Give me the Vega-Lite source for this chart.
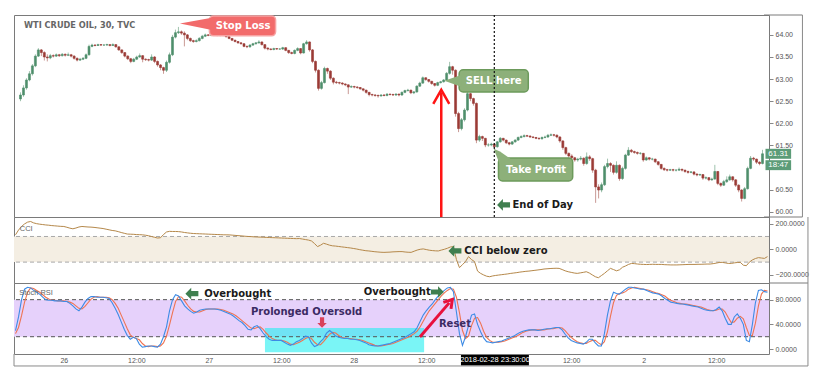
{
"$schema":"https://vega.github.io/schema/vega-lite/v6.json",
"background":"white",
"padding":{"left":12,"top":13,"right":4,"bottom":4},
"spacing":0,
"bounds":"flush",
"config":{
 "view":{"stroke":"#7a7a7a","strokeWidth":1},
 "axis":{"labelFont":"Liberation Sans","labelFontSize":7,"labelColor":"#555","tickColor":"#888","domain":false,"grid":false,"labelOverlap":false},
 "text":{"font":"DejaVu Sans"}
},
"datasets":{"one":[{}],"bars":[
{"i":0,"o":62.55,"h":62.7,"l":62.5,"c":62.64,"cci":113,"k":30,"d":25},
{"i":1,"o":62.64,"h":62.86,"l":62.6,"c":62.8,"cci":150,"k":52,"d":35},
{"i":2,"o":62.8,"h":63.02,"l":62.76,"c":62.98,"cci":178,"k":80,"d":54},
{"i":3,"o":62.98,"h":63.18,"l":62.95,"c":63.12,"cci":198,"k":97,"d":76},
{"i":4,"o":63.12,"h":63.34,"l":63.08,"c":63.3,"cci":212,"k":100,"d":92},
{"i":5,"o":63.3,"h":63.56,"l":63.27,"c":63.52,"cci":217,"k":99,"d":99},
{"i":6,"o":63.52,"h":63.7,"l":63.5,"c":63.66,"cci":206,"k":95,"d":98},
{"i":7,"o":63.66,"h":63.68,"l":63.52,"c":63.6,"cci":200,"k":92,"d":95},
{"i":8,"o":63.6,"h":63.63,"l":63.42,"c":63.5,"cci":196,"k":89,"d":92},
{"i":9,"o":63.5,"h":63.56,"l":63.4,"c":63.48,"cci":193,"k":84,"d":88},
{"i":10,"o":63.48,"h":63.57,"l":63.45,"c":63.53,"cci":190,"k":80,"d":84},
{"i":11,"o":63.53,"h":63.56,"l":63.49,"c":63.52,"cci":188,"k":79,"d":81},
{"i":12,"o":63.52,"h":63.58,"l":63.5,"c":63.55,"cci":185,"k":79,"d":79},
{"i":13,"o":63.55,"h":63.57,"l":63.5,"c":63.53,"cci":183,"k":78,"d":79},
{"i":14,"o":63.53,"h":63.59,"l":63.51,"c":63.56,"cci":181,"k":78,"d":78},
{"i":15,"o":63.56,"h":63.58,"l":63.51,"c":63.54,"cci":179,"k":78,"d":78},
{"i":16,"o":63.54,"h":63.6,"l":63.52,"c":63.55,"cci":178,"k":77,"d":78},
{"i":17,"o":63.55,"h":63.57,"l":63.49,"c":63.52,"cci":172,"k":77,"d":77},
{"i":18,"o":63.52,"h":63.54,"l":63.44,"c":63.47,"cci":165,"k":74,"d":76},
{"i":19,"o":63.47,"h":63.49,"l":63.4,"c":63.43,"cci":160,"k":70,"d":74},
{"i":20,"o":63.43,"h":63.48,"l":63.41,"c":63.45,"cci":166,"k":65,"d":70},
{"i":21,"o":63.45,"h":63.5,"l":63.43,"c":63.47,"cci":174,"k":62,"d":66},
{"i":22,"o":63.47,"h":63.58,"l":63.45,"c":63.55,"cci":178,"k":68,"d":65},
{"i":23,"o":63.55,"h":63.78,"l":63.53,"c":63.74,"cci":176,"k":76,"d":69},
{"i":24,"o":63.74,"h":63.8,"l":63.72,"c":63.77,"cci":174,"k":82,"d":75},
{"i":25,"o":63.77,"h":63.79,"l":63.74,"c":63.76,"cci":173,"k":85,"d":81},
{"i":26,"o":63.76,"h":63.8,"l":63.75,"c":63.78,"cci":171,"k":85,"d":84},
{"i":27,"o":63.78,"h":63.79,"l":63.75,"c":63.77,"cci":168,"k":84,"d":85},
{"i":28,"o":63.77,"h":63.79,"l":63.75,"c":63.77,"cci":165,"k":84,"d":84},
{"i":29,"o":63.77,"h":63.8,"l":63.76,"c":63.78,"cci":162,"k":84,"d":84},
{"i":30,"o":63.78,"h":63.79,"l":63.74,"c":63.76,"cci":157,"k":83,"d":84},
{"i":31,"o":63.76,"h":63.81,"l":63.75,"c":63.78,"cci":152,"k":82,"d":83},
{"i":32,"o":63.78,"h":63.79,"l":63.71,"c":63.73,"cci":147,"k":75,"d":80},
{"i":33,"o":63.73,"h":63.74,"l":63.64,"c":63.66,"cci":144,"k":66,"d":74},
{"i":34,"o":63.66,"h":63.67,"l":63.57,"c":63.6,"cci":138,"k":56,"d":66},
{"i":35,"o":63.6,"h":63.61,"l":63.49,"c":63.52,"cci":131,"k":44,"d":55},
{"i":36,"o":63.52,"h":63.54,"l":63.43,"c":63.46,"cci":125,"k":32,"d":44},
{"i":37,"o":63.46,"h":63.48,"l":63.36,"c":63.4,"cci":119,"k":22,"d":33},
{"i":38,"o":63.4,"h":63.48,"l":63.38,"c":63.45,"cci":118,"k":16,"d":23},
{"i":39,"o":63.45,"h":63.53,"l":63.43,"c":63.5,"cci":117,"k":19,"d":19},
{"i":40,"o":63.5,"h":63.58,"l":63.48,"c":63.53,"cci":115,"k":17,"d":17},
{"i":41,"o":63.53,"h":63.54,"l":63.38,"c":63.45,"cci":114,"k":8,"d":15},
{"i":42,"o":63.45,"h":63.47,"l":63.41,"c":63.44,"cci":113,"k":3,"d":9},
{"i":43,"o":63.44,"h":63.46,"l":63.4,"c":63.43,"cci":110,"k":4,"d":5},
{"i":44,"o":63.43,"h":63.56,"l":63.41,"c":63.5,"cci":106,"k":5,"d":4},
{"i":45,"o":63.5,"h":63.52,"l":63.36,"c":63.4,"cci":100,"k":5,"d":5},
{"i":46,"o":63.4,"h":63.42,"l":63.28,"c":63.32,"cci":94,"k":4,"d":5},
{"i":47,"o":63.32,"h":63.34,"l":63.2,"c":63.26,"cci":88,"k":3,"d":4},
{"i":48,"o":63.26,"h":63.28,"l":63.12,"c":63.2,"cci":90,"k":8,"d":5},
{"i":49,"o":63.2,"h":63.42,"l":63.16,"c":63.38,"cci":115,"k":20,"d":10},
{"i":50,"o":63.38,"h":63.6,"l":63.35,"c":63.55,"cci":135,"k":36,"d":21},
{"i":51,"o":63.55,"h":64.0,"l":63.52,"c":63.95,"cci":140,"k":62,"d":39},
{"i":52,"o":63.95,"h":64.12,"l":63.92,"c":64.05,"cci":139,"k":80,"d":59},
{"i":53,"o":64.05,"h":64.18,"l":64.02,"c":64.07,"cci":139,"k":88,"d":77},
{"i":54,"o":64.07,"h":64.1,"l":64.0,"c":64.04,"cci":138,"k":86,"d":85},
{"i":55,"o":64.04,"h":64.08,"l":63.74,"c":64.0,"cci":135,"k":78,"d":84},
{"i":56,"o":64.0,"h":64.02,"l":63.88,"c":63.92,"cci":131,"k":70,"d":78},
{"i":57,"o":63.92,"h":63.94,"l":63.84,"c":63.87,"cci":128,"k":65,"d":71},
{"i":58,"o":63.87,"h":63.89,"l":63.82,"c":63.85,"cci":125,"k":61,"d":65},
{"i":59,"o":63.85,"h":63.9,"l":63.83,"c":63.87,"cci":123,"k":58,"d":61},
{"i":60,"o":63.87,"h":63.95,"l":63.85,"c":63.92,"cci":122,"k":60,"d":60},
{"i":61,"o":63.92,"h":64.0,"l":63.9,"c":63.97,"cci":121,"k":63,"d":60},
{"i":62,"o":63.97,"h":64.03,"l":63.95,"c":64.0,"cci":120,"k":64,"d":62},
{"i":63,"o":64.0,"h":64.02,"l":63.97,"c":63.99,"cci":119,"k":65,"d":64},
{"i":64,"o":63.99,"h":64.03,"l":63.97,"c":64.01,"cci":118,"k":65,"d":65},
{"i":65,"o":64.01,"h":64.02,"l":63.98,"c":64.0,"cci":117,"k":65,"d":65},
{"i":66,"o":64.0,"h":64.02,"l":63.97,"c":63.99,"cci":116,"k":65,"d":65},
{"i":67,"o":63.99,"h":64.03,"l":63.97,"c":64.01,"cci":115,"k":64,"d":65},
{"i":68,"o":64.01,"h":64.02,"l":63.97,"c":64.0,"cci":114,"k":63,"d":64},
{"i":69,"o":64.0,"h":64.01,"l":63.94,"c":63.96,"cci":113,"k":61,"d":63},
{"i":70,"o":63.96,"h":63.97,"l":63.9,"c":63.92,"cci":113,"k":59,"d":61},
{"i":71,"o":63.92,"h":63.93,"l":63.86,"c":63.88,"cci":112,"k":57,"d":59},
{"i":72,"o":63.88,"h":63.89,"l":63.83,"c":63.85,"cci":110,"k":54,"d":57},
{"i":73,"o":63.85,"h":63.86,"l":63.8,"c":63.82,"cci":108,"k":50,"d":54},
{"i":74,"o":63.82,"h":63.84,"l":63.78,"c":63.8,"cci":106,"k":46,"d":50},
{"i":75,"o":63.8,"h":63.81,"l":63.72,"c":63.74,"cci":104,"k":43,"d":46},
{"i":76,"o":63.74,"h":63.76,"l":63.7,"c":63.73,"cci":102,"k":38,"d":42},
{"i":77,"o":63.73,"h":63.79,"l":63.71,"c":63.77,"cci":100,"k":32,"d":38},
{"i":78,"o":63.77,"h":63.82,"l":63.75,"c":63.8,"cci":99,"k":31,"d":34},
{"i":79,"o":63.8,"h":63.84,"l":63.78,"c":63.82,"cci":97,"k":36,"d":33},
{"i":80,"o":63.82,"h":63.88,"l":63.8,"c":63.84,"cci":96,"k":38,"d":35},
{"i":81,"o":63.84,"h":63.85,"l":63.76,"c":63.78,"cci":95,"k":33,"d":36},
{"i":82,"o":63.78,"h":63.79,"l":63.67,"c":63.7,"cci":94,"k":26,"d":32},
{"i":83,"o":63.7,"h":63.72,"l":63.65,"c":63.68,"cci":93,"k":20,"d":26},
{"i":84,"o":63.68,"h":63.7,"l":63.65,"c":63.67,"cci":92,"k":16,"d":21},
{"i":85,"o":63.67,"h":63.71,"l":63.65,"c":63.69,"cci":91,"k":14,"d":17},
{"i":86,"o":63.69,"h":63.7,"l":63.66,"c":63.68,"cci":90,"k":14,"d":15},
{"i":87,"o":63.68,"h":63.7,"l":63.66,"c":63.68,"cci":89,"k":14,"d":14},
{"i":88,"o":63.68,"h":63.73,"l":63.66,"c":63.71,"cci":88,"k":14,"d":14},
{"i":89,"o":63.71,"h":63.72,"l":63.63,"c":63.65,"cci":87,"k":11,"d":13},
{"i":90,"o":63.65,"h":63.66,"l":63.57,"c":63.6,"cci":86,"k":8,"d":11},
{"i":91,"o":63.6,"h":63.62,"l":63.56,"c":63.58,"cci":85,"k":6,"d":8},
{"i":92,"o":63.58,"h":63.67,"l":63.56,"c":63.65,"cci":84,"k":8,"d":7},
{"i":93,"o":63.65,"h":63.72,"l":63.63,"c":63.69,"cci":83,"k":12,"d":9},
{"i":94,"o":63.69,"h":63.7,"l":63.56,"c":63.59,"cci":84,"k":14,"d":11},
{"i":95,"o":63.59,"h":63.82,"l":63.58,"c":63.8,"cci":80,"k":17,"d":14},
{"i":96,"o":63.8,"h":63.88,"l":63.78,"c":63.84,"cci":76,"k":21,"d":17},
{"i":97,"o":63.84,"h":63.85,"l":63.62,"c":63.66,"cci":72,"k":20,"d":19},
{"i":98,"o":63.66,"h":63.68,"l":63.36,"c":63.4,"cci":65,"k":10,"d":17},
{"i":99,"o":63.4,"h":63.42,"l":63.15,"c":63.2,"cci":45,"k":4,"d":11},
{"i":100,"o":63.2,"h":63.22,"l":62.74,"c":62.79,"cci":21,"k":6,"d":7},
{"i":101,"o":62.79,"h":62.96,"l":62.76,"c":62.92,"cci":32,"k":12,"d":7},
{"i":102,"o":62.92,"h":63.28,"l":62.9,"c":63.24,"cci":47,"k":17,"d":12},
{"i":103,"o":63.24,"h":63.26,"l":63.12,"c":63.18,"cci":40,"k":26,"d":18},
{"i":104,"o":63.18,"h":63.2,"l":62.98,"c":63.02,"cci":32,"k":30,"d":24},
{"i":105,"o":63.02,"h":63.04,"l":62.88,"c":62.93,"cci":27,"k":26,"d":27},
{"i":106,"o":62.93,"h":62.96,"l":62.89,"c":62.92,"cci":25,"k":21,"d":26},
{"i":107,"o":62.92,"h":62.94,"l":62.88,"c":62.91,"cci":22,"k":19,"d":22},
{"i":108,"o":62.91,"h":62.93,"l":62.86,"c":62.89,"cci":19,"k":18,"d":19},
{"i":109,"o":62.89,"h":62.9,"l":62.84,"c":62.87,"cci":16,"k":17,"d":18},
{"i":110,"o":62.87,"h":62.88,"l":62.66,"c":62.82,"cci":13,"k":17,"d":17},
{"i":111,"o":62.82,"h":62.86,"l":62.8,"c":62.83,"cci":10,"k":16,"d":17},
{"i":112,"o":62.83,"h":62.85,"l":62.79,"c":62.82,"cci":6,"k":16,"d":16},
{"i":113,"o":62.82,"h":62.84,"l":62.78,"c":62.81,"cci":2,"k":15,"d":16},
{"i":114,"o":62.81,"h":62.82,"l":62.76,"c":62.78,"cci":-3,"k":14,"d":15},
{"i":115,"o":62.78,"h":62.79,"l":62.72,"c":62.75,"cci":-7,"k":12,"d":14},
{"i":116,"o":62.75,"h":62.76,"l":62.67,"c":62.7,"cci":-11,"k":10,"d":12},
{"i":117,"o":62.7,"h":62.71,"l":62.61,"c":62.65,"cci":-13,"k":7,"d":10},
{"i":118,"o":62.65,"h":62.67,"l":62.61,"c":62.64,"cci":-16,"k":6,"d":8},
{"i":119,"o":62.64,"h":62.66,"l":62.6,"c":62.63,"cci":-19,"k":5,"d":6},
{"i":120,"o":62.63,"h":62.65,"l":62.58,"c":62.62,"cci":-21,"k":5,"d":5},
{"i":121,"o":62.62,"h":62.66,"l":62.6,"c":62.64,"cci":-23,"k":6,"d":5},
{"i":122,"o":62.64,"h":62.66,"l":62.61,"c":62.63,"cci":-24,"k":7,"d":6},
{"i":123,"o":62.63,"h":62.68,"l":62.61,"c":62.66,"cci":-23,"k":8,"d":7},
{"i":124,"o":62.66,"h":62.67,"l":62.63,"c":62.65,"cci":-22,"k":9,"d":8},
{"i":125,"o":62.65,"h":62.67,"l":62.62,"c":62.64,"cci":-20,"k":11,"d":9},
{"i":126,"o":62.64,"h":62.68,"l":62.62,"c":62.66,"cci":-19,"k":13,"d":11},
{"i":127,"o":62.66,"h":62.67,"l":62.61,"c":62.64,"cci":-18,"k":15,"d":13},
{"i":128,"o":62.64,"h":62.72,"l":62.62,"c":62.7,"cci":-18,"k":17,"d":15},
{"i":129,"o":62.7,"h":62.76,"l":62.68,"c":62.74,"cci":-21,"k":19,"d":17},
{"i":130,"o":62.74,"h":62.78,"l":62.72,"c":62.75,"cci":-23,"k":22,"d":19},
{"i":131,"o":62.75,"h":62.76,"l":62.66,"c":62.69,"cci":-24,"k":25,"d":22},
{"i":132,"o":62.69,"h":62.73,"l":62.66,"c":62.71,"cci":-15,"k":28,"d":25},
{"i":133,"o":62.71,"h":62.86,"l":62.69,"c":62.84,"cci":-6,"k":35,"d":29},
{"i":134,"o":62.84,"h":62.94,"l":62.82,"c":62.91,"cci":0,"k":45,"d":36},
{"i":135,"o":62.91,"h":63.06,"l":62.89,"c":63.03,"cci":3,"k":55,"d":45},
{"i":136,"o":63.03,"h":63.04,"l":62.96,"c":62.99,"cci":-2,"k":62,"d":54},
{"i":137,"o":62.99,"h":63.0,"l":62.92,"c":62.95,"cci":-7,"k":68,"d":62},
{"i":138,"o":62.95,"h":62.96,"l":62.87,"c":62.9,"cci":-10,"k":73,"d":68},
{"i":139,"o":62.9,"h":62.91,"l":62.83,"c":62.86,"cci":-12,"k":80,"d":74},
{"i":140,"o":62.86,"h":62.94,"l":62.84,"c":62.92,"cci":-13,"k":86,"d":80},
{"i":141,"o":62.92,"h":62.96,"l":62.9,"c":62.94,"cci":-6,"k":91,"d":86},
{"i":142,"o":62.94,"h":63.0,"l":62.92,"c":62.98,"cci":0,"k":95,"d":91},
{"i":143,"o":62.98,"h":63.16,"l":62.96,"c":63.13,"cci":8,"k":99,"d":95},
{"i":144,"o":63.13,"h":63.39,"l":63.1,"c":63.28,"cci":18,"k":100,"d":98},
{"i":145,"o":63.28,"h":63.3,"l":63.1,"c":63.2,"cci":21,"k":93,"d":97},
{"i":146,"o":63.2,"h":63.22,"l":62.15,"c":62.22,"cci":-80,"k":60,"d":84},
{"i":147,"o":62.22,"h":62.26,"l":61.8,"c":61.88,"cci":-143,"k":25,"d":59},
{"i":148,"o":61.88,"h":62.12,"l":61.84,"c":62.08,"cci":-120,"k":6,"d":30},
{"i":149,"o":62.08,"h":62.34,"l":62.04,"c":62.3,"cci":-96,"k":20,"d":17},
{"i":150,"o":62.3,"h":62.74,"l":62.27,"c":62.67,"cci":-57,"k":38,"d":21},
{"i":151,"o":62.67,"h":62.69,"l":62.5,"c":62.56,"cci":-80,"k":55,"d":38},
{"i":152,"o":62.56,"h":62.58,"l":62.4,"c":62.45,"cci":-96,"k":57,"d":50},
{"i":153,"o":62.45,"h":62.47,"l":61.55,"c":61.62,"cci":-170,"k":40,"d":51},
{"i":154,"o":61.62,"h":61.74,"l":61.58,"c":61.7,"cci":-188,"k":28,"d":42},
{"i":155,"o":61.7,"h":61.72,"l":61.6,"c":61.66,"cci":-200,"k":18,"d":29},
{"i":156,"o":61.66,"h":61.67,"l":61.46,"c":61.51,"cci":-210,"k":12,"d":19},
{"i":157,"o":61.51,"h":61.55,"l":61.47,"c":61.51,"cci":-214,"k":11,"d":14},
{"i":158,"o":61.51,"h":61.56,"l":61.48,"c":61.53,"cci":-208,"k":10,"d":11},
{"i":159,"o":61.53,"h":61.55,"l":61.44,"c":61.47,"cci":-204,"k":11,"d":11},
{"i":160,"o":61.47,"h":61.6,"l":61.45,"c":61.58,"cci":-201,"k":12,"d":11},
{"i":161,"o":61.58,"h":61.69,"l":61.56,"c":61.66,"cci":-198,"k":13,"d":12},
{"i":162,"o":61.66,"h":61.67,"l":61.59,"c":61.62,"cci":-195,"k":15,"d":13},
{"i":163,"o":61.62,"h":61.63,"l":61.53,"c":61.56,"cci":-192,"k":17,"d":15},
{"i":164,"o":61.56,"h":61.58,"l":61.5,"c":61.53,"cci":-188,"k":19,"d":17},
{"i":165,"o":61.53,"h":61.6,"l":61.51,"c":61.58,"cci":-185,"k":21,"d":19},
{"i":166,"o":61.58,"h":61.64,"l":61.56,"c":61.62,"cci":-182,"k":24,"d":21},
{"i":167,"o":61.62,"h":61.7,"l":61.6,"c":61.68,"cci":-178,"k":27,"d":24},
{"i":168,"o":61.68,"h":61.73,"l":61.66,"c":61.7,"cci":-175,"k":29,"d":27},
{"i":169,"o":61.7,"h":61.75,"l":61.68,"c":61.72,"cci":-172,"k":30,"d":29},
{"i":170,"o":61.72,"h":61.74,"l":61.69,"c":61.71,"cci":-170,"k":31,"d":30},
{"i":171,"o":61.71,"h":61.73,"l":61.67,"c":61.69,"cci":-167,"k":31,"d":31},
{"i":172,"o":61.69,"h":61.71,"l":61.66,"c":61.68,"cci":-164,"k":31,"d":31},
{"i":173,"o":61.68,"h":61.69,"l":61.64,"c":61.66,"cci":-161,"k":30,"d":31},
{"i":174,"o":61.66,"h":61.68,"l":61.63,"c":61.65,"cci":-158,"k":31,"d":31},
{"i":175,"o":61.65,"h":61.7,"l":61.63,"c":61.68,"cci":-154,"k":32,"d":31},
{"i":176,"o":61.68,"h":61.72,"l":61.66,"c":61.69,"cci":-152,"k":33,"d":32},
{"i":177,"o":61.69,"h":61.76,"l":61.67,"c":61.73,"cci":-150,"k":33,"d":33},
{"i":178,"o":61.73,"h":61.77,"l":61.71,"c":61.74,"cci":-149,"k":34,"d":33},
{"i":179,"o":61.74,"h":61.76,"l":61.7,"c":61.73,"cci":-148,"k":35,"d":34},
{"i":180,"o":61.73,"h":61.75,"l":61.66,"c":61.69,"cci":-149,"k":35,"d":35},
{"i":181,"o":61.69,"h":61.71,"l":61.56,"c":61.6,"cci":-158,"k":31,"d":34},
{"i":182,"o":61.6,"h":61.62,"l":61.4,"c":61.45,"cci":-168,"k":24,"d":30},
{"i":183,"o":61.45,"h":61.47,"l":61.28,"c":61.32,"cci":-175,"k":18,"d":24},
{"i":184,"o":61.32,"h":61.34,"l":61.22,"c":61.26,"cci":-180,"k":14,"d":19},
{"i":185,"o":61.26,"h":61.3,"l":61.18,"c":61.22,"cci":-185,"k":12,"d":15},
{"i":186,"o":61.22,"h":61.24,"l":61.13,"c":61.17,"cci":-188,"k":10,"d":12},
{"i":187,"o":61.17,"h":61.22,"l":61.13,"c":61.19,"cci":-184,"k":9,"d":10},
{"i":188,"o":61.19,"h":61.26,"l":61.16,"c":61.21,"cci":-180,"k":8,"d":9},
{"i":189,"o":61.21,"h":61.23,"l":61.04,"c":61.09,"cci":-175,"k":11,"d":9},
{"i":190,"o":61.09,"h":61.34,"l":61.06,"c":61.24,"cci":-185,"k":16,"d":12},
{"i":191,"o":61.24,"h":61.28,"l":61.15,"c":61.2,"cci":-200,"k":16,"d":14},
{"i":192,"o":61.2,"h":61.22,"l":60.88,"c":60.94,"cci":-214,"k":10,"d":14},
{"i":193,"o":60.94,"h":60.97,"l":60.2,"c":60.56,"cci":-222,"k":5,"d":10},
{"i":194,"o":60.56,"h":60.62,"l":60.3,"c":60.49,"cci":-205,"k":5,"d":7},
{"i":195,"o":60.49,"h":60.66,"l":60.44,"c":60.61,"cci":-188,"k":25,"d":12},
{"i":196,"o":60.61,"h":61.06,"l":60.58,"c":61.02,"cci":-168,"k":55,"d":28},
{"i":197,"o":61.02,"h":61.2,"l":60.98,"c":61.09,"cci":-149,"k":78,"d":53},
{"i":198,"o":61.09,"h":61.12,"l":60.9,"c":61.05,"cci":-158,"k":92,"d":75},
{"i":199,"o":61.05,"h":61.07,"l":60.84,"c":60.89,"cci":-168,"k":90,"d":87},
{"i":200,"o":60.89,"h":61.14,"l":60.86,"c":61.05,"cci":-160,"k":89,"d":90},
{"i":201,"o":61.05,"h":61.07,"l":60.7,"c":60.75,"cci":-140,"k":93,"d":91},
{"i":202,"o":60.75,"h":61.02,"l":60.72,"c":60.98,"cci":-130,"k":97,"d":93},
{"i":203,"o":60.98,"h":61.31,"l":60.95,"c":61.28,"cci":-118,"k":100,"d":97},
{"i":204,"o":61.28,"h":61.46,"l":61.26,"c":61.39,"cci":-110,"k":100,"d":99},
{"i":205,"o":61.39,"h":61.42,"l":61.33,"c":61.36,"cci":-112,"k":99,"d":100},
{"i":206,"o":61.36,"h":61.38,"l":61.31,"c":61.34,"cci":-115,"k":98,"d":99},
{"i":207,"o":61.34,"h":61.36,"l":61.29,"c":61.32,"cci":-117,"k":97,"d":98},
{"i":208,"o":61.32,"h":61.35,"l":61.29,"c":61.32,"cci":-118,"k":97,"d":97},
{"i":209,"o":61.32,"h":61.33,"l":61.13,"c":61.17,"cci":-119,"k":95,"d":96},
{"i":210,"o":61.17,"h":61.25,"l":61.15,"c":61.22,"cci":-118,"k":93,"d":95},
{"i":211,"o":61.22,"h":61.23,"l":61.16,"c":61.19,"cci":-117,"k":91,"d":93},
{"i":212,"o":61.19,"h":61.22,"l":61.16,"c":61.19,"cci":-118,"k":90,"d":91},
{"i":213,"o":61.19,"h":61.2,"l":61.1,"c":61.13,"cci":-118,"k":89,"d":90},
{"i":214,"o":61.13,"h":61.14,"l":61.04,"c":61.07,"cci":-118,"k":86,"d":88},
{"i":215,"o":61.07,"h":61.08,"l":60.95,"c":60.98,"cci":-120,"k":82,"d":86},
{"i":216,"o":60.98,"h":61.0,"l":60.92,"c":60.95,"cci":-121,"k":79,"d":82},
{"i":217,"o":60.95,"h":60.97,"l":60.91,"c":60.94,"cci":-122,"k":76,"d":79},
{"i":218,"o":60.94,"h":60.97,"l":60.92,"c":60.95,"cci":-122,"k":75,"d":77},
{"i":219,"o":60.95,"h":60.97,"l":60.91,"c":60.94,"cci":-122,"k":74,"d":75},
{"i":220,"o":60.94,"h":60.96,"l":60.91,"c":60.94,"cci":-121,"k":73,"d":74},
{"i":221,"o":60.94,"h":61.0,"l":60.92,"c":60.96,"cci":-120,"k":73,"d":73},
{"i":222,"o":60.96,"h":60.97,"l":60.91,"c":60.94,"cci":-119,"k":72,"d":73},
{"i":223,"o":60.94,"h":60.95,"l":60.88,"c":60.91,"cci":-118,"k":71,"d":72},
{"i":224,"o":60.91,"h":60.93,"l":60.86,"c":60.89,"cci":-118,"k":70,"d":71},
{"i":225,"o":60.89,"h":60.92,"l":60.87,"c":60.9,"cci":-118,"k":69,"d":70},
{"i":226,"o":60.9,"h":60.91,"l":60.82,"c":60.85,"cci":-117,"k":68,"d":69},
{"i":227,"o":60.85,"h":60.87,"l":60.8,"c":60.83,"cci":-117,"k":66,"d":68},
{"i":228,"o":60.83,"h":60.86,"l":60.81,"c":60.84,"cci":-116,"k":64,"d":66},
{"i":229,"o":60.84,"h":60.85,"l":60.72,"c":60.76,"cci":-115,"k":63,"d":64},
{"i":230,"o":60.76,"h":60.8,"l":60.73,"c":60.77,"cci":-115,"k":62,"d":63},
{"i":231,"o":60.77,"h":60.78,"l":60.69,"c":60.72,"cci":-112,"k":62,"d":62},
{"i":232,"o":60.72,"h":60.77,"l":60.7,"c":60.74,"cci":-108,"k":64,"d":63},
{"i":233,"o":60.74,"h":61.06,"l":60.72,"c":60.91,"cci":-103,"k":68,"d":65},
{"i":234,"o":60.91,"h":60.92,"l":60.6,"c":60.64,"cci":-102,"k":62,"d":65},
{"i":235,"o":60.64,"h":60.66,"l":60.56,"c":60.6,"cci":-106,"k":50,"d":60},
{"i":236,"o":60.6,"h":60.72,"l":60.58,"c":60.68,"cci":-110,"k":40,"d":51},
{"i":237,"o":60.68,"h":60.8,"l":60.65,"c":60.72,"cci":-110,"k":40,"d":43},
{"i":238,"o":60.72,"h":60.84,"l":60.7,"c":60.79,"cci":-106,"k":52,"d":44},
{"i":239,"o":60.79,"h":60.8,"l":60.68,"c":60.72,"cci":-103,"k":57,"d":50},
{"i":240,"o":60.72,"h":60.74,"l":60.56,"c":60.6,"cci":-102,"k":50,"d":53},
{"i":241,"o":60.6,"h":60.62,"l":60.44,"c":60.49,"cci":-124,"k":40,"d":49},
{"i":242,"o":60.49,"h":60.51,"l":60.23,"c":60.3,"cci":-128,"k":14,"d":35},
{"i":243,"o":60.3,"h":60.56,"l":60.28,"c":60.52,"cci":-100,"k":12,"d":22},
{"i":244,"o":60.52,"h":61.02,"l":60.5,"c":60.98,"cci":-83,"k":40,"d":22},
{"i":245,"o":60.98,"h":61.26,"l":60.96,"c":61.21,"cci":-72,"k":75,"d":42},
{"i":246,"o":61.21,"h":61.24,"l":61.15,"c":61.19,"cci":-65,"k":95,"d":70},
{"i":247,"o":61.19,"h":61.2,"l":61.08,"c":61.12,"cci":-68,"k":96,"d":89},
{"i":248,"o":61.12,"h":61.14,"l":61.05,"c":61.09,"cci":-71,"k":93,"d":95},
{"i":249,"o":61.09,"h":61.4,"l":61.07,"c":61.31,"cci":-57,"k":92,"d":94}
]},
"vconcat":[
{
 "width":755,"height":202,
 "layer":[
  {"data":{"name":"bars"},"mark":{"type":"rule","strokeWidth":1},
   "encoding":{
    "x":{"field":"i","type":"quantitative","scale":{"domain":[-0.5,249.5],"nice":false,"zero":false},"axis":null},
    "y":{"field":"l","type":"quantitative","scale":{"domain":[59.88,64.45],"nice":false,"zero":false},"axis":{"orient":"right","values":[60,60.5,61.5,62,62.5,63,63.5,64],"tickCount":40,"format":".2f","tickSize":4,"labelPadding":2,"labelOverlap":false,"labelBound":false,"title":null}},
    "y2":{"field":"h"},
    "color":{"condition":{"test":"datum.c >= datum.o","value":"#9fc2ad"},"value":"#c99a95"}}},
  {"data":{"name":"bars"},"mark":{"type":"bar","width":2,"strokeWidth":0.6},
   "encoding":{
    "x":{"field":"i","type":"quantitative"},
    "y":{"field":"o","type":"quantitative"},
    "y2":{"field":"c"},
    "fill":{"condition":{"test":"datum.c >= datum.o","value":"#4f8f6b"},"value":"#9b3b36"},
    "stroke":{"condition":{"test":"datum.c >= datum.o","value":"#4f8f6b"},"value":"#9b3b36"}}},
  {"data":{"name":"one"},"mark":{"type":"text","text":"WTI CRUDE OIL, 30, TVC","fontSize":8.2,"fontWeight":"bold","color":"#666","align":"left","baseline":"middle"},
   "encoding":{"x":{"datum":1.2},"y":{"datum":64.2}}},
  {"data":{"name":"one"},"mark":{"type":"rule","color":"#ff1414","strokeWidth":2.5},
   "encoding":{"x":{"datum":141.2},"y":{"datum":59.88},"y2":{"datum":62.7}}},
  {"data":{"name":"one"},"mark":{"type":"point","shape":"M -1 1 L 0 -0.75 L 1 1","filled":false,"color":"#ff1414","strokeWidth":2.5,"size":256,"opacity":1},
   "encoding":{"x":{"datum":141.2},"y":{"datum":62.62}}},
  {"data":{"name":"one"},"mark":{"type":"rect","fill":"#f26b6b","stroke":"#f7a3a3","strokeWidth":1.5,"cornerRadius":4},
   "encoding":{"x":{"datum":63.4},"x2":{"datum":85.6},"y":{"datum":64.43},"y2":{"datum":63.98}}},
  {"data":{"values":[{"x":53.5,"y":64.256,"y2":64.256},{"x":64.2,"y":64.385,"y2":64.113}]},
   "mark":{"type":"area","color":"#f26b6b","opacity":1},
   "encoding":{"x":{"field":"x","type":"quantitative"},"y":{"field":"y","type":"quantitative"},"y2":{"field":"y2"}}},
  {"data":{"name":"one"},"mark":{"type":"text","text":"Stop Loss","fontSize":10,"fontWeight":"bold","color":"white","align":"center","baseline":"middle"},
   "encoding":{"x":{"datum":74.7},"y":{"datum":64.2}}},
  {"data":{"name":"one"},"mark":{"type":"rect","fill":"#8db07a","stroke":"#6c9a5b","strokeWidth":1.5,"cornerRadius":4},
   "encoding":{"x":{"datum":147.2},"x2":{"datum":170.4},"y":{"datum":63.21},"y2":{"datum":62.71}}},
  {"data":{"values":[{"x":142.2,"y":62.96,"y2":62.96},{"x":147.9,"y":63.095,"y2":62.824}]},
   "mark":{"type":"area","color":"#8db07a","opacity":1},
   "encoding":{"x":{"field":"x","type":"quantitative"},"y":{"field":"y","type":"quantitative"},"y2":{"field":"y2"}}},
  {"data":{"name":"one"},"mark":{"type":"text","text":"SELL here","fontSize":10,"fontWeight":"bold","color":"white","align":"center","baseline":"middle"},
   "encoding":{"x":{"datum":158.8},"y":{"datum":62.96}}},
  {"data":{"name":"one"},"mark":{"type":"rect","fill":"#8db07a","stroke":"#6c9a5b","strokeWidth":1.5,"cornerRadius":4},
   "encoding":{"x":{"datum":160.4},"x2":{"datum":185.3},"y":{"datum":61.217},"y2":{"datum":60.697}}},
  {"data":{"values":[{"x":158.8,"y":61.424,"y2":61.424},{"x":160.9,"y":61.36,"y2":61.06},{"x":164.4,"y":61.2,"y2":61.2}]},
   "mark":{"type":"area","color":"#8db07a","opacity":1},
   "encoding":{"x":{"field":"x","type":"quantitative"},"y":{"field":"y","type":"quantitative"},"y2":{"field":"y2"}}},
  {"data":{"name":"one"},"mark":{"type":"text","text":"Take Profit","fontSize":10,"fontWeight":"bold","color":"white","align":"center","baseline":"middle"},
   "encoding":{"x":{"datum":173},"y":{"datum":60.946}}},
  {"data":{"name":"one"},"mark":{"type":"rule","color":"#111","strokeDash":[2,2],"strokeWidth":1.2},
   "encoding":{"x":{"datum":159}}},
  {"data":{"name":"one"},"mark":{"type":"point","shape":"M -1 0 L -0.1 -0.9 L -0.1 -0.4 L 1 -0.4 L 1 0.4 L -0.1 0.4 L -0.1 0.9 Z","filled":true,"color":"#3f7f4f","size":169,"opacity":1},
   "encoding":{"x":{"datum":162.1},"y":{"datum":60.154}}},
  {"data":{"name":"one"},"mark":{"type":"text","text":"End of Day","fontSize":10,"fontWeight":"bold","color":"#1a1a1a","align":"left","baseline":"middle"},
   "encoding":{"x":{"datum":165.1},"y":{"datum":60.154}}},
  {"data":{"name":"one"},"mark":{"type":"rect","fill":"#5c9c78"},
   "encoding":{"x":{"datum":250},"x2":{"datum":258.6},"y":{"datum":61.423},"y2":{"datum":61.197}}},
  {"data":{"name":"one"},"mark":{"type":"rect","fill":"#5c9c78"},
   "encoding":{"x":{"datum":250},"x2":{"datum":258.6},"y":{"datum":61.165},"y2":{"datum":60.94}}},
  {"data":{"name":"one"},"mark":{"type":"text","text":"61.31","font":"Liberation Sans","fontSize":8,"color":"white","align":"center","baseline":"middle"},
   "encoding":{"x":{"datum":254.3},"y":{"datum":61.31}}},
  {"data":{"name":"one"},"mark":{"type":"text","text":"18:47","font":"Liberation Sans","fontSize":8,"color":"white","align":"center","baseline":"middle"},
   "encoding":{"x":{"datum":254.3},"y":{"datum":61.052}}},
  {"data":{"name":"one"},"mark":{"type":"rule","color":"#7a7a7a","strokeWidth":1},
   "encoding":{"x":{"datum":249.5},"x2":{"datum":262.4},"y":{"datum":64.45}}},
  {"data":{"name":"one"},"mark":{"type":"rule","color":"#7a7a7a","strokeWidth":1},
   "encoding":{"x":{"datum":249.5},"x2":{"datum":262.4},"y":{"datum":59.88}}},
  {"data":{"name":"one"},"mark":{"type":"rule","color":"#8a8a8a","strokeWidth":1},
   "encoding":{"x":{"datum":262.4},"y":{"datum":64.45},"y2":{"datum":59.88}}}
 ]
},
{
 "width":755,"height":66,
 "layer":[
  {"data":{"name":"one"},"mark":{"type":"rect","fill":"#f4eee3"},
   "encoding":{
    "x":{"datum":-0.5,"type":"quantitative","scale":{"domain":[-0.5,249.5],"nice":false,"zero":false},"axis":null},
    "x2":{"datum":249.5},
    "y":{"datum":-100,"type":"quantitative","scale":{"domain":[-263,252],"nice":false,"zero":false},"axis":{"orient":"right","values":[-200,0,200],"tickCount":40,"format":".4f","tickSize":4,"labelPadding":2,"labelOverlap":false,"labelBound":false,"title":null}},
    "y2":{"datum":100}}},
  {"data":{"name":"one"},"mark":{"type":"rule","color":"#a8a8a8","strokeDash":[4,3],"strokeWidth":1},
   "encoding":{"y":{"datum":100}}},
  {"data":{"name":"one"},"mark":{"type":"rule","color":"#a8a8a8","strokeDash":[4,3],"strokeWidth":1},
   "encoding":{"y":{"datum":-100}}},
  {"data":{"name":"bars"},"mark":{"type":"line","color":"#b5884a","strokeWidth":1},
   "encoding":{"x":{"field":"i","type":"quantitative"},"y":{"field":"cci","type":"quantitative"}}},
  {"data":{"name":"one"},"mark":{"type":"text","text":"CCI","font":"Liberation Sans","fontSize":7.5,"color":"#666","align":"left","baseline":"middle"},
   "encoding":{"x":{"datum":1.4},"y":{"datum":162}}},
  {"data":{"name":"one"},"mark":{"type":"point","shape":"M -1 0 L -0.1 -0.9 L -0.1 -0.4 L 1 -0.4 L 1 0.4 L -0.1 0.4 L -0.1 0.9 Z","filled":true,"color":"#3f7f4f","size":169,"opacity":1},
   "encoding":{"x":{"datum":145.5},"y":{"datum":-13}}},
  {"data":{"name":"one"},"mark":{"type":"text","text":"CCI below zero","fontSize":10,"fontWeight":"bold","color":"#1a1a1a","align":"left","baseline":"middle"},
   "encoding":{"x":{"datum":148.6},"y":{"datum":-13}}},
  {"data":{"name":"one"},"mark":{"type":"rule","color":"#7a7a7a","strokeWidth":1},
   "encoding":{"x":{"datum":249.5},"x2":{"datum":262.4},"y":{"datum":-263}}},
  {"data":{"name":"one"},"mark":{"type":"rule","color":"#8a8a8a","strokeWidth":1},
   "encoding":{"x":{"datum":262.4},"y":{"datum":252},"y2":{"datum":-263}}}
 ]
},
{
 "width":755,"height":71,
 "layer":[
  {"data":{"name":"one"},"mark":{"type":"rect","fill":"#e6d1fb"},
   "encoding":{
    "x":{"datum":-0.5,"type":"quantitative","scale":{"domain":[-0.5,249.5],"nice":false,"zero":false},
         "axis":{"orient":"bottom","values":[16,40,64,88,112,136,184,208,232],"tickCount":40,"labelExpr":"datum.value == 16 ? '26' : datum.value == 64 ? '27' : datum.value == 112 ? '28' : datum.value == 208 ? '2' : '12:00'","ticks":false,"labelPadding":2,"labelOverlap":false,"title":null}},
    "x2":{"datum":249.5},
    "y":{"datum":20,"type":"quantitative","scale":{"domain":[-8,107],"nice":false,"zero":false},"axis":{"orient":"right","values":[0,40,80],"tickCount":40,"format":".4f","tickSize":4,"labelPadding":2,"labelOverlap":false,"labelBound":false,"title":null}},
    "y2":{"datum":80}}},
  {"data":{"name":"one"},"mark":{"type":"rect","fill":"#22eef0","opacity":0.6},
   "encoding":{"x":{"datum":82.6},"x2":{"datum":135.3},"y":{"datum":34},"y2":{"datum":-5}}},
  {"data":{"name":"one"},"mark":{"type":"rule","color":"#555","strokeDash":[4,3],"strokeWidth":1},
   "encoding":{"y":{"datum":80}}},
  {"data":{"name":"one"},"mark":{"type":"rule","color":"#555","strokeDash":[4,3],"strokeWidth":1},
   "encoding":{"y":{"datum":20}}},
  {"data":{"name":"bars"},"mark":{"type":"line","color":"#ef7352","strokeWidth":1.1},
   "encoding":{"x":{"field":"i","type":"quantitative"},"y":{"field":"d","type":"quantitative"}}},
  {"data":{"name":"bars"},"mark":{"type":"line","color":"#3d8be5","strokeWidth":1.1},
   "encoding":{"x":{"field":"i","type":"quantitative"},"y":{"field":"k","type":"quantitative"}}},
  {"data":{"name":"one"},"mark":{"type":"text","text":"Stoch RSI","font":"Liberation Sans","fontSize":7.5,"color":"#666","align":"left","baseline":"middle"},
   "encoding":{"x":{"datum":1.2},"y":{"datum":90.8}}},
  {"data":{"name":"one"},"mark":{"type":"point","shape":"M -1 0 L -0.1 -0.9 L -0.1 -0.4 L 1 -0.4 L 1 0.4 L -0.1 0.4 L -0.1 0.9 Z","filled":true,"color":"#3f7f4f","size":169,"opacity":1},
   "encoding":{"x":{"datum":58.4},"y":{"datum":89.7}}},
  {"data":{"name":"one"},"mark":{"type":"text","text":"Overbought","fontSize":10,"fontWeight":"bold","color":"#1a1a1a","align":"left","baseline":"middle"},
   "encoding":{"x":{"datum":62.5},"y":{"datum":89.7}}},
  {"data":{"name":"one"},"mark":{"type":"text","text":"Overbought","fontSize":10,"fontWeight":"bold","color":"#1a1a1a","align":"right","baseline":"middle"},
   "encoding":{"x":{"datum":137.5},"y":{"datum":92.4}}},
  {"data":{"name":"one"},"mark":{"type":"point","shape":"M -1 0 L -0.1 -0.9 L -0.1 -0.4 L 1 -0.4 L 1 0.4 L -0.1 0.4 L -0.1 0.9 Z","filled":true,"color":"#3f7f4f","size":169,"opacity":1,"angle":180},
   "encoding":{"x":{"datum":139.7},"y":{"datum":92.4}}},
  {"data":{"name":"one"},"mark":{"type":"text","text":"Prolonged Oversold","fontSize":10,"fontWeight":"bold","color":"#3b2a63","align":"center","baseline":"middle"},
   "encoding":{"x":{"datum":96.4},"y":{"datum":60}}},
  {"data":{"name":"one"},"mark":{"type":"point","shape":"M -1 0 L -0.1 -0.9 L -0.1 -0.4 L 1 -0.4 L 1 0.4 L -0.1 0.4 L -0.1 0.9 Z","filled":true,"color":"#d9415b","size":110,"opacity":1,"angle":270},
   "encoding":{"x":{"datum":101.5},"y":{"datum":43}}},
  {"data":{"name":"one"},"mark":{"type":"rule","color":"#e8113d","strokeWidth":3},
   "encoding":{"x":{"datum":133.9},"x2":{"datum":143.6},"y":{"datum":19.5},"y2":{"datum":74.8}}},
  {"data":{"name":"one"},"mark":{"type":"point","shape":"M -1 1 L 0 -0.6 L 1 1","filled":false,"color":"#e8113d","strokeWidth":3,"size":100,"opacity":1,"angle":40},
   "encoding":{"x":{"datum":144},"y":{"datum":76.5}}},
  {"data":{"name":"one"},"mark":{"type":"text","text":"Reset","fontSize":10,"fontWeight":"bold","color":"#3b2a63","align":"center","baseline":"middle"},
   "encoding":{"x":{"datum":145.5},"y":{"datum":39.8}}},
  {"data":{"name":"one"},"mark":{"type":"rect","fill":"#000"},
   "encoding":{"x":{"datum":147.5},"x2":{"datum":170},"y":{"datum":-9.6},"y2":{"datum":-26.6}}},
  {"data":{"name":"one"},"mark":{"type":"text","text":"2018-02-28 23:30:00","font":"Liberation Sans","fontSize":7.5,"color":"white","align":"center","baseline":"middle"},
   "encoding":{"x":{"datum":158.8},"y":{"datum":-18.1}}},
  {"data":{"name":"one"},"mark":{"type":"rule","color":"#8a8a8a","strokeWidth":1},
   "encoding":{"x":{"datum":262.4},"y":{"datum":107},"y2":{"datum":-27.4}}},
  {"data":{"name":"one"},"mark":{"type":"rule","color":"#8a8a8a","strokeWidth":1},
   "encoding":{"x":{"datum":-0.5},"x2":{"datum":262.4},"y":{"datum":-27.4}}},
  {"data":{"name":"one"},"mark":{"type":"rule","color":"#8a8a8a","strokeWidth":1},
   "encoding":{"x":{"datum":-0.5},"y":{"datum":-8},"y2":{"datum":-27.4}}}
 ]
}
]
}
